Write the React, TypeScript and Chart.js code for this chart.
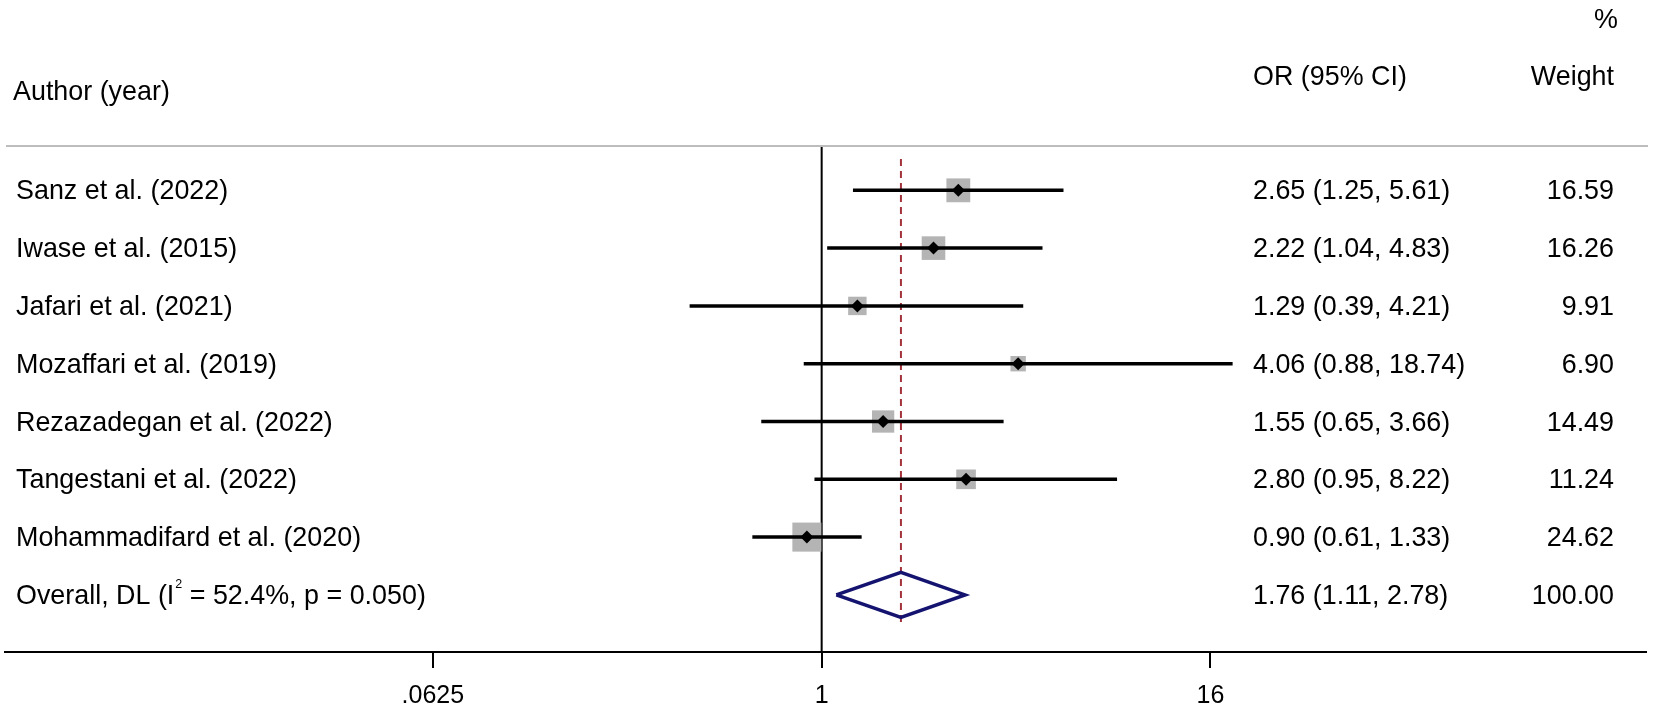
import React, { useEffect, useRef } from "react";
import { Chart, registerables } from "chart.js";

Chart.register(...registerables);

// ---------- data ----------
const studies: string[] = [
  "Sanz et al. (2022)",
  "Iwase et al. (2015)",
  "Jafari et al. (2021)",
  "Mozaffari et al. (2019)",
  "Rezazadegan et al. (2022)",
  "Tangestani et al. (2022)",
  "Mohammadifard et al. (2020)",
];
const oddsRatios: number[] = [2.65, 2.22, 1.29, 4.06, 1.55, 2.8, 0.9];
const ciLower: number[] = [1.25, 1.04, 0.39, 0.88, 0.65, 0.95, 0.61];
const ciUpper: number[] = [5.61, 4.83, 4.21, 18.74, 3.66, 8.22, 1.33];
const weights: number[] = [16.59, 16.26, 9.91, 6.9, 14.49, 11.24, 24.62];

const overallLabelPre = "Overall, DL (I";
const overallLabelSup = "2";
const overallLabelPost = " = 52.4%, p = 0.050)";
const overallOR = 1.76;
const overallLower = 1.11;
const overallUpper = 2.78;
const overallWeight = 100.0;

const xTicks: number[] = [0.0625, 1, 16];
const xTickLabels: string[] = [".0625", "1", "16"];

// ---------- style constants ----------
const W = 1654;
const H = 710;
const FONT = '"Liberation Sans", Arial, Helvetica, sans-serif';
const TEXT_SIZE = 28;
const TEXT_SX = 0.96;

function drawText(
  ctx: CanvasRenderingContext2D,
  s: string,
  x: number,
  y: number,
  align: CanvasTextAlign,
  size = TEXT_SIZE,
  sx = TEXT_SX
) {
  ctx.save();
  ctx.font = `${size}px ${FONT}`;
  ctx.textBaseline = "alphabetic";
  ctx.textAlign = align;
  ctx.fillStyle = "#000";
  ctx.translate(x, y);
  ctx.scale(sx, 1);
  ctx.fillText(s, 0, 0);
  ctx.restore();
}

function measure(ctx: CanvasRenderingContext2D, s: string, size = TEXT_SIZE, sx = TEXT_SX) {
  ctx.save();
  ctx.font = `${size}px ${FONT}`;
  const w = ctx.measureText(s).width * sx;
  ctx.restore();
  return w;
}

const textPlugin = {
  id: "forestText",
  afterDraw(chart: any) {
    const ctx: CanvasRenderingContext2D = chart.ctx;
    const ys = chart.scales.y;
    const LEFT = 16;
    const OR_X = 1253;
    const WT_X = 1614;
    const BASE = 9;

    // separator line
    ctx.save();
    ctx.strokeStyle = "#bdbdbd";
    ctx.lineWidth = 2;
    ctx.beginPath();
    ctx.moveTo(6, 146);
    ctx.lineTo(1648, 146);
    ctx.stroke();
    ctx.restore();

    // headers
    drawText(ctx, "%", 1618, 28, "right");
    drawText(ctx, "Author (year)", 13, 100, "left");
    drawText(ctx, "OR (95% CI)", OR_X, 85, "left");
    drawText(ctx, "Weight", WT_X, 85, "right");

    studies.forEach((s, i) => {
      const y = ys.getPixelForValue(i) + BASE;
      drawText(ctx, s, LEFT, y, "left");
      drawText(
        ctx,
        `${oddsRatios[i].toFixed(2)} (${ciLower[i].toFixed(2)}, ${ciUpper[i].toFixed(2)})`,
        OR_X,
        y,
        "left"
      );
      drawText(ctx, weights[i].toFixed(2), WT_X, y, "right");
    });

    const oy = ys.getPixelForValue(studies.length) + BASE;
    drawText(ctx, overallLabelPre, LEFT, oy, "left");
    const w1 = measure(ctx, overallLabelPre);
    drawText(ctx, overallLabelSup, LEFT + w1 + 1, oy - 16, "left", 13, 0.96);
    const w2 = measure(ctx, overallLabelSup, 13, 0.96);
    drawText(ctx, overallLabelPost, LEFT + w1 + w2 + 1, oy, "left");
    drawText(
      ctx,
      `${overallOR.toFixed(2)} (${overallLower.toFixed(2)}, ${overallUpper.toFixed(2)})`,
      OR_X,
      oy,
      "left"
    );
    drawText(ctx, overallWeight.toFixed(2), WT_X, oy, "right");
  },
};

export default function App() {
  const ref = useRef<HTMLCanvasElement | null>(null);

  useEffect(() => {
    document.body.style.margin = "0";
    const canvas = ref.current;
    if (!canvas) return;

    const n = studies.length;
    const rowTop = -0.77; // separator level (row units)
    const diamondHalf = 0.39;

    const datasets: any[] = [];

    // point estimates (on top)
    datasets.push({
      label: "estimate",
      data: oddsRatios.map((v, i) => ({ x: v, y: i })),
      pointStyle: "rectRot",
      pointRadius: 6.5,
      backgroundColor: "#000",
      borderColor: "#000",
      borderWidth: 0,
      showLine: false,
      order: 0,
    });

    // CI lines
    oddsRatios.forEach((_, i) => {
      datasets.push({
        label: "ci" + i,
        data: [
          { x: ciLower[i], y: i },
          { x: ciUpper[i], y: i },
        ],
        showLine: true,
        borderColor: "#000",
        borderWidth: 3.5,
        pointRadius: 0,
        borderCapStyle: "butt",
        order: 1,
      });
    });

    // weight boxes
    datasets.push({
      label: "weight",
      data: oddsRatios.map((v, i) => ({ x: v, y: i })),
      pointStyle: "rect",
      pointRadius: weights.map((w) => 4.14 * Math.sqrt(w)),
      backgroundColor: "#b4b4b4",
      borderWidth: 0,
      showLine: false,
      order: 2,
    });

    // overall diamond
    datasets.push({
      label: "overall",
      data: [
        { x: overallLower, y: n },
        { x: overallOR, y: n - diamondHalf },
        { x: overallUpper, y: n },
        { x: overallOR, y: n + diamondHalf },
        { x: overallLower, y: n },
      ],
      showLine: true,
      borderColor: "#141470",
      borderWidth: 3.5,
      borderJoinStyle: "miter",
      pointRadius: 0,
      fill: false,
      order: 3,
    });

    // overall reference dashed line
    datasets.push({
      label: "overallLine",
      data: [
        { x: overallOR, y: -0.54 },
        { x: overallOR, y: n + 0.49 },
      ],
      showLine: true,
      borderColor: "#a3323a",
      borderWidth: 2,
      borderDash: [7, 5],
      pointRadius: 0,
      order: 4,
    });

    // null line at 1
    datasets.push({
      label: "null",
      data: [
        { x: 1, y: rowTop },
        { x: 1, y: 7.988 },
      ],
      showLine: true,
      borderColor: "#000",
      borderWidth: 2,
      pointRadius: 0,
      order: 5,
    });

    const chart = new Chart(canvas, {
      type: "scatter",
      data: { datasets },
      options: {
        responsive: false,
        animation: false,
        devicePixelRatio: 1,
        layout: { autoPadding: false, padding: { left: 5, right: 8, top: 0, bottom: 0 } },
        plugins: { legend: { display: false }, tooltip: { enabled: false } },
        elements: { line: { tension: 0 } },
        scales: {
          x: {
            type: "logarithmic",
            min: Math.pow(2, -8.402),
            max: Math.pow(2, 8.481),
            afterBuildTicks: (scale: any) => {
              scale.ticks = xTicks.map((v) => ({ value: v }));
            },
            afterFit: (scale: any) => {
              scale.height = 58;
            },
            ticks: {
              autoSkip: false,
              maxRotation: 0,
              color: "#000",
              padding: 13,
              font: { family: FONT, size: 25 },
              callback: (value: any) => {
                const idx = xTicks.findIndex((t) => Math.abs(t - Number(value)) < 1e-9);
                return idx >= 0 ? xTickLabels[idx] : "";
              },
            },
            grid: {
              drawOnChartArea: false,
              drawTicks: true,
              tickLength: 16,
              color: "#000",
              lineWidth: 2,
            },
            border: { display: true, color: "#000", width: 2 },
          },
          y: {
            type: "linear",
            min: -3.293,
            max: 7.988,
            reverse: true,
            display: false,
          },
        },
      } as any,
      plugins: [textPlugin],
    });

    return () => chart.destroy();
  }, []);

  return (
    <div style={{ width: W, height: H, background: "#fff" }}>
      <canvas ref={ref} width={W} height={H} style={{ display: "block", width: W, height: H }} />
    </div>
  );
}
